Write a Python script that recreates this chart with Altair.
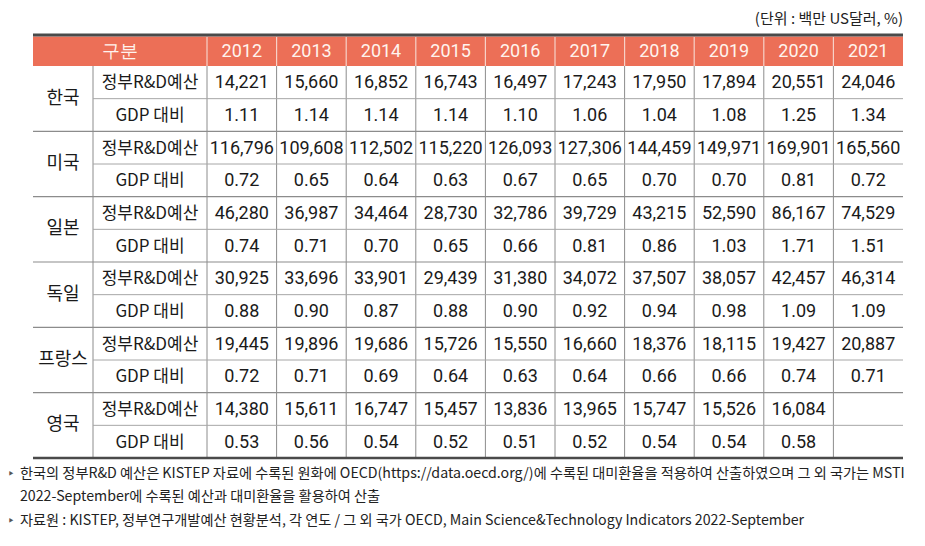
import altair as alt
import pandas as pd

# ---------------- data ----------------
years = ["2012", "2013", "2014", "2015", "2016", "2017", "2018", "2019", "2020", "2021"]
countries = ["한국", "미국", "일본", "독일", "프랑스", "영국"]
row_labels = ["정부R&D예산", "GDP 대비"]

budget_korea = [14221, 15660, 16852, 16743, 16497, 17243, 17950, 17894, 20551, 24046]
gdp_korea = [1.11, 1.14, 1.14, 1.14, 1.10, 1.06, 1.04, 1.08, 1.25, 1.34]
budget_usa = [116796, 109608, 112502, 115220, 126093, 127306, 144459, 149971, 169901, 165560]
gdp_usa = [0.72, 0.65, 0.64, 0.63, 0.67, 0.65, 0.70, 0.70, 0.81, 0.72]
budget_japan = [46280, 36987, 34464, 28730, 32786, 39729, 43215, 52590, 86167, 74529]
gdp_japan = [0.74, 0.71, 0.70, 0.65, 0.66, 0.81, 0.86, 1.03, 1.71, 1.51]
budget_germany = [30925, 33696, 33901, 29439, 31380, 34072, 37507, 38057, 42457, 46314]
gdp_germany = [0.88, 0.90, 0.87, 0.88, 0.90, 0.92, 0.94, 0.98, 1.09, 1.09]
budget_france = [19445, 19896, 19686, 15726, 15550, 16660, 18376, 18115, 19427, 20887]
gdp_france = [0.72, 0.71, 0.69, 0.64, 0.63, 0.64, 0.66, 0.66, 0.74, 0.71]
budget_uk = [14380, 15611, 16747, 15457, 13836, 13965, 15747, 15526, 16084, None]
gdp_uk = [0.53, 0.56, 0.54, 0.52, 0.51, 0.52, 0.54, 0.54, 0.58, None]

budgets = [budget_korea, budget_usa, budget_japan, budget_germany, budget_france, budget_uk]
gdps = [gdp_korea, gdp_usa, gdp_japan, gdp_germany, gdp_france, gdp_uk]

header_label = "구분"
unit_text = "(단위 : 백만 US달러, %)"
notes = [
    "한국의 정부R&D 예산은 KISTEP 자료에 수록된 원화에 OECD(https://data.oecd.org/)에 수록된 대미환율을 적용하여 산출하였으며 그 외 국가는 MSTI",
    "2022-September에 수록된 예산과 대미환율을 활용하여 산출",
    "자료원 : KISTEP, 정부연구개발예산 현황분석, 각 연도 / 그 외 국가 OECD, Main Science&Technology Indicators 2022-September",
]
note_bullets = [True, False, True]

# ---------------- layout (pixels of the page) ----------------
LEFT = 33
COUNTRY_W = 60
LABEL_W = 114
RIGHT = 903
TOP = 35
HEADER_BOTTOM = 66
BOTTOM = 458
n_rows = len(countries) * 2
ROW_H = (BOTTOM - HEADER_BOTTOM) / n_rows
x_country = LEFT + COUNTRY_W
x_label = x_country + LABEL_W
YEAR_W = (RIGHT - x_label) / len(years)
year_edges = [x_label + i * YEAR_W for i in range(len(years) + 1)]

FONT = "Noto Sans CJK KR"
NUM_FONT = "Roboto"

xs = alt.Scale(domain=[8, 917], nice=False, zero=False)
ys = alt.Scale(domain=[8, 538], nice=False, zero=False, reverse=True)


def X(f):
    return alt.X(f, type="quantitative", scale=xs, axis=None)


def Y(f):
    return alt.Y(f, type="quantitative", scale=ys, axis=None)


# ---------------- tables ----------------
cells = []
for ci, c in enumerate(countries):
    for ri, (vals, fmt) in enumerate([(budgets[ci], "{:,.0f}"), (gdps[ci], "{:.2f}")]):
        r = ci * 2 + ri
        yc = HEADER_BOTTOM + (r + 0.5) * ROW_H
        for yi, v in enumerate(vals):
            if v is None:
                continue
            cells.append({"x": (year_edges[yi] + year_edges[yi + 1]) / 2, "y": yc + 1, "t": fmt.format(v)})
cells = pd.DataFrame(cells)

labels = []
for ci in range(len(countries)):
    for ri, lab in enumerate(row_labels):
        r = ci * 2 + ri
        labels.append({"x": (x_country + x_label) / 2, "y": HEADER_BOTTOM + (r + 0.5) * ROW_H + 1, "t": lab})
labels = pd.DataFrame(labels)

ctry = pd.DataFrame([
    {"x": LEFT + COUNTRY_W / 2, "y": HEADER_BOTTOM + (ci * 2 + 1) * ROW_H, "t": c}
    for ci, c in enumerate(countries)
])

head_txt = pd.DataFrame(
    [{"x": (LEFT + x_label) / 2, "y": (TOP + HEADER_BOTTOM) / 2 + 1, "t": header_label}]
    + [{"x": (year_edges[i] + year_edges[i + 1]) / 2, "y": (TOP + HEADER_BOTTOM) / 2 + 1, "t": yv}
       for i, yv in enumerate(years)]
)

# lines
rules = []
rules.append({"x": LEFT, "x2": RIGHT, "y": TOP, "y2": TOP, "c": "#4a4a4a", "w": 3})
for e in year_edges[:-1]:
    rules.append({"x": e, "x2": e, "y": TOP + 2, "y2": HEADER_BOTTOM, "c": "#f7d2c8", "w": 1.2})
for e in [x_country] + year_edges[:-1]:
    rules.append({"x": e, "x2": e, "y": HEADER_BOTTOM, "y2": BOTTOM, "c": "#8c8c8c", "w": 1})
for r in range(1, n_rows):
    yy = HEADER_BOTTOM + r * ROW_H
    if r % 2 == 0:
        rules.append({"x": LEFT, "x2": RIGHT, "y": yy, "y2": yy, "c": "#8c8c8c", "w": 1.2})
    else:
        rules.append({"x": x_country, "x2": RIGHT, "y": yy, "y2": yy, "c": "#a6a6a6", "w": 1})
rules.append({"x": LEFT, "x2": RIGHT, "y": BOTTOM, "y2": BOTTOM, "c": "#4a4a4a", "w": 2.5})
rules = pd.DataFrame(rules)

header_rect = pd.DataFrame([{"x": LEFT, "x2": RIGHT, "y": TOP + 1.5, "y2": HEADER_BOTTOM}])

note_y = [474, 497, 521]
notes_df = pd.DataFrame([{"x": 20, "y": note_y[i], "t": t} for i, t in enumerate(notes)])
bullets_df = pd.DataFrame([{"x": 11, "y": note_y[i], "t": "‣"} for i, b in enumerate(note_bullets) if b])
unit_df = pd.DataFrame([{"x": RIGHT, "y": 19, "t": unit_text}])

# ---------------- marks ----------------
hdr = alt.Chart(header_rect).mark_rect(color="#ec6f57").encode(
    x=X("x"), x2="x2", y=Y("y"), y2="y2")

lines = alt.Chart(rules).mark_rule().encode(
    x=X("x"), x2="x2", y=Y("y"), y2="y2",
    color=alt.Color("c:N", scale=None),
    strokeWidth=alt.StrokeWidth("w:Q", scale=None))

head_t = alt.Chart(head_txt).mark_text(font=NUM_FONT, fontSize=18, color="#fff4ee", baseline="middle").encode(
    x=X("x"), y=Y("y"), text="t:N")

cell_t = alt.Chart(cells).mark_text(font=NUM_FONT, fontSize=18, color="#1a1a1a", baseline="middle").encode(
    x=X("x"), y=Y("y"), text="t:N")

lab_t = alt.Chart(labels).mark_text(font=FONT, fontSize=17, color="#1a1a1a", baseline="middle").encode(
    x=X("x"), y=Y("y"), text="t:N")

ctry_t = alt.Chart(ctry).mark_text(font=FONT, fontSize=18, color="#1a1a1a", baseline="middle").encode(
    x=X("x"), y=Y("y"), text="t:N")

unit_t = alt.Chart(unit_df).mark_text(font=FONT, fontSize=15, color="#222222", align="right", baseline="middle").encode(
    x=X("x"), y=Y("y"), text="t:N")

note_t = alt.Chart(notes_df).mark_text(font=FONT, fontSize=14.2, color="#222222", align="left", baseline="middle").encode(
    x=X("x"), y=Y("y"), text="t:N")

bul_t = alt.Chart(bullets_df).mark_text(font="DejaVu Sans", fontSize=12, color="#555555", align="center", baseline="middle").encode(
    x=X("x"), y=Y("y"), text="t:N")

chart = alt.layer(hdr, lines, head_t, cell_t, lab_t, ctry_t, unit_t, note_t, bul_t).properties(
    width=909, height=530, padding=0, autosize=alt.AutoSizeParams(type="none"), background="white"
).configure_view(stroke=None)

chart.save("out.html", embed_options={"renderer": "svg", "actions": False})
